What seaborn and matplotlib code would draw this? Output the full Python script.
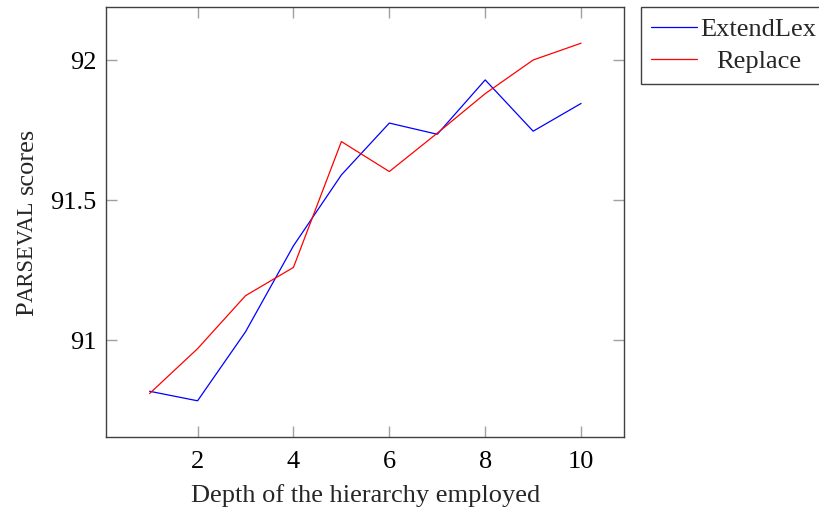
import pandas as pd
import seaborn as sns
import matplotlib.pyplot as plt

# values
depth = [1, 2, 3, 4, 5, 6, 7, 8, 9, 10]
extendlex = [90.818, 90.784, 91.030, 91.337, 91.590, 91.775, 91.735, 91.929, 91.746, 91.845]
replace = [90.810, 90.970, 91.159, 91.260, 91.709, 91.602, 91.739, 91.880, 92.000, 92.060]
series_names = ["ExtendLex", "Replace"]
xticks = [2, 4, 6, 8, 10]
yticks = [91, 91.5, 92]
ytick_labels = ["91", "91.5", "92"]

df = pd.DataFrame({
    "depth": depth * 2,
    "score": extendlex + replace,
    "method": [series_names[0]] * len(depth) + [series_names[1]] * len(depth),
})

sns.set_style("white")
plt.rcParams["font.family"] = ["Liberation Serif", "DejaVu Serif"]
FS = 19

fig = plt.figure(figsize=(8.19, 5.08), dpi=100)
ax = fig.add_axes([0.130, 0.1404, 0.6322, 0.8452])

sns.lineplot(data=df, x="depth", y="score", hue="method",
             palette={"ExtendLex": "#0000ff", "Replace": "#ff0000"},
             linewidth=0.9, ax=ax)

ax.set_xlim(0.1, 10.9)
ax.set_ylim(90.656, 92.188)
ax.set_xticks(xticks)
ax.set_xticklabels([str(t) for t in xticks])
ax.set_yticks(yticks)
ax.set_yticklabels(ytick_labels)
ax.tick_params(direction="in", length=8, width=1.0, color="#a0a0a0",
               labelsize=FS, labelcolor="black", pad=7,
               top=True, right=True, bottom=True, left=True)
ax.tick_params(axis="x", pad=10)
for s in ax.spines.values():
    s.set_visible(True)
    s.set_color("#404040")
    s.set_linewidth(1.0)

ax.set_xlabel("Depth of the hierarchy employed", fontsize=FS, labelpad=8)
ax.set_ylabel("")

leg = ax.legend(loc="upper left", bbox_to_anchor=(0.7823, 0.9856),
                bbox_transform=fig.transFigure, borderaxespad=0,
                fontsize=FS, frameon=True, fancybox=False, framealpha=1,
                edgecolor="#404040", handlelength=1.75, handletextpad=0.12,
                labelspacing=0.32, borderpad=0.4)
leg.get_frame().set_linewidth(1.0)
for line in leg.get_lines():
    line.set_linewidth(0.9)

# y label with small caps "PARSEVAL"
W, H = 819, 508
fig.canvas.draw()
r = fig.canvas.get_renderer()
pieces = [("P", FS), ("ARSEVAL", FS * 0.86), ("scores", FS)]
gap = 0.25 * FS * 100 / 72
base_x = 33
texts = []
for s, size in pieces:
    t = fig.text(0, 0, s, fontsize=size, rotation=90, rotation_mode="anchor",
                 ha="left", va="baseline")
    texts.append(t)
lengths = [t.get_window_extent(r).height for t in texts]
total = sum(lengths) + gap
center = (7.3 + 436.7) / 2
y = center + total / 2  # bottom in image pixel coordinates
for i, t in enumerate(texts):
    if i == 2:
        y -= gap
    t.set_position((base_x / W, 1 - y / H))
    y -= lengths[i]

# centre the legend entries like pgfplots
fig.canvas.draw()
ltexts = leg.get_texts()
widths = [t.get_window_extent(r).width for t in ltexts]
wmax = max(widths)
for t, w in zip(ltexts, widths):
    t.set_x(t.get_position()[0] + (wmax - w) / 2)

fig.savefig("out.png", dpi=100)
